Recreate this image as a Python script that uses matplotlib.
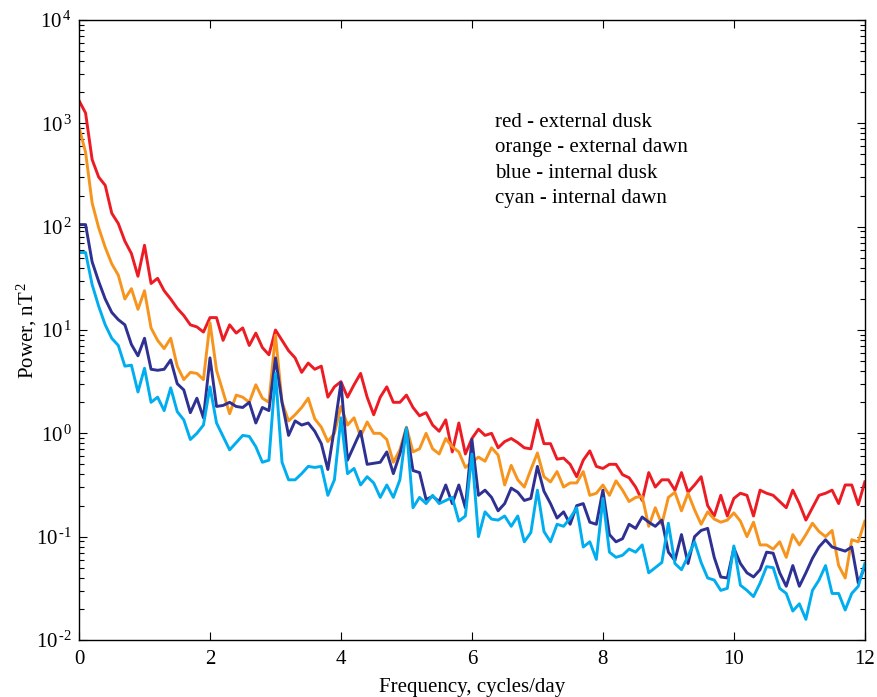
import matplotlib
matplotlib.use("Agg")
import matplotlib.pyplot as plt
import numpy as np
from matplotlib.ticker import LogLocator, NullFormatter

freq = [i / 10 for i in range(121)]

red_log = [
    3.22, 3.10, 2.65, 2.48, 2.40, 2.13, 2.03, 1.86, 1.74, 1.52,
    1.82, 1.45, 1.50, 1.38, 1.30, 1.21, 1.14, 1.05, 1.03, 0.98,
    1.12, 1.12, 0.90, 1.05, 0.97, 1.02, 0.85, 0.97, 0.83, 0.76,
    1.00, 0.90, 0.80, 0.73, 0.59, 0.68, 0.62, 0.65, 0.35, 0.45,
    0.50, 0.35, 0.47, 0.58, 0.35, 0.18, 0.35, 0.45, 0.30, 0.30,
    0.37, 0.25, 0.17, 0.20, 0.08, 0.02, 0.13, -0.18, 0.10, -0.20,
    -0.05, 0.04, -0.02, 0.00, -0.14, -0.08, -0.05, -0.09, -0.14, -0.15,
    0.13, -0.10, -0.10, -0.25, -0.24, -0.30, -0.42, -0.26, -0.17, -0.32,
    -0.34, -0.30, -0.30, -0.40, -0.43, -0.52, -0.65, -0.38, -0.52, -0.45,
    -0.45, -0.55, -0.38, -0.57, -0.50, -0.42, -0.70, -0.80, -0.60, -0.80,
    -0.63, -0.58, -0.60, -0.80, -0.55, -0.58, -0.60, -0.66, -0.72, -0.55,
    -0.68, -0.84, -0.72, -0.60, -0.58, -0.55, -0.68, -0.50, -0.50, -0.69,
    -0.47,
]

orange_log = [
    2.96, 2.72, 2.23, 1.99, 1.80, 1.64, 1.53, 1.30, 1.40, 1.20,
    1.38, 1.02, 0.90, 0.82, 0.92, 0.65, 0.52, 0.59, 0.58, 0.52,
    1.07, 0.61, 0.40, 0.19, 0.37, 0.35, 0.30, 0.47, 0.34, 0.30,
    0.95, 0.30, 0.12, 0.18, 0.25, 0.34, 0.14, 0.06, -0.08, 0.00,
    0.26, 0.08, 0.15, -0.03, 0.11, 0.00, 0.00, -0.06, -0.28, -0.16,
    0.06, -0.18, -0.15, 0.00, -0.15, -0.20, -0.05, -0.13, -0.18, -0.33,
    -0.28, -0.23, -0.27, -0.14, -0.21, -0.50, -0.31, -0.45, -0.52, -0.35,
    -0.19, -0.42, -0.47, -0.37, -0.52, -0.48, -0.48, -0.37, -0.60, -0.58,
    -0.50, -0.60, -0.46, -0.55, -0.66, -0.62, -0.61, -0.90, -0.72, -0.88,
    -0.62, -0.57, -0.75, -0.58, -0.74, -0.88, -0.76, -0.83, -0.86, -0.84,
    -0.77, -0.85, -1.00, -0.86, -1.08, -1.08, -1.12, -1.05, -1.20, -0.98,
    -1.08, -0.98, -0.87, -0.95, -1.00, -0.94, -1.28, -1.40, -1.03, -1.05,
    -0.85,
]

blue_log = [
    2.02, 2.02, 1.66, 1.47, 1.30, 1.17, 1.10, 1.05, 0.86, 0.75,
    0.92, 0.62, 0.61, 0.62, 0.71, 0.48, 0.42, 0.20, 0.34, 0.15,
    0.73, 0.26, 0.27, 0.30, 0.26, 0.25, 0.30, 0.10, 0.25, 0.22,
    0.73, 0.30, -0.02, 0.12, 0.08, 0.10, 0.02, -0.10, -0.35, 0.05,
    0.49, -0.26, -0.12, 0.02, -0.30, -0.29, -0.28, -0.18, -0.39, -0.20,
    0.05, -0.36, -0.38, -0.64, -0.61, -0.66, -0.50, -0.68, -0.50, -0.72,
    -0.06, -0.60, -0.55, -0.62, -0.75, -0.68, -0.53, -0.57, -0.65, -0.63,
    -0.32, -0.56, -0.68, -0.82, -0.76, -0.88, -0.70, -0.68, -0.86, -0.88,
    -0.55, -0.98, -1.05, -1.02, -0.88, -0.92, -0.81, -0.86, -0.90, -0.84,
    -1.15, -1.23, -0.98, -1.26, -1.00, -0.94, -0.92, -1.20, -1.39, -1.40,
    -1.11, -1.26, -1.35, -1.39, -1.32, -1.15, -1.16, -1.35, -1.48, -1.28,
    -1.48, -1.35, -1.21, -1.10, -1.03, -1.10, -1.12, -1.14, -1.10, -1.45,
    -1.29,
]

cyan_log = [
    1.75, 1.75, 1.44, 1.23, 1.05, 0.92, 0.85, 0.65, 0.66, 0.40,
    0.63, 0.30, 0.35, 0.22, 0.44, 0.21, 0.13, -0.06, 0.00, 0.08,
    0.45, 0.10, -0.03, -0.16, -0.09, -0.02, -0.03, -0.13, -0.28, -0.26,
    0.58, -0.28, -0.45, -0.45, -0.39, -0.32, -0.33, -0.32, -0.60, -0.45,
    0.15, -0.39, -0.34, -0.50, -0.42, -0.48, -0.62, -0.50, -0.62, -0.45,
    0.05, -0.72, -0.62, -0.68, -0.60, -0.68, -0.65, -0.62, -0.85, -0.80,
    -0.20, -1.00, -0.76, -0.83, -0.84, -0.80, -0.90, -0.80, -1.05, -0.96,
    -0.55, -0.95, -1.05, -0.88, -0.90, -0.82, -0.72, -1.10, -1.05, -1.22,
    -0.63, -1.15, -1.20, -1.18, -1.12, -1.15, -1.08, -1.35, -1.30, -1.25,
    -0.87, -1.26, -1.32, -1.19, -1.05, -1.25, -1.40, -1.42, -1.52, -1.50,
    -1.09, -1.47, -1.52, -1.58, -1.45, -1.29, -1.30, -1.50, -1.55, -1.72,
    -1.65, -1.80, -1.52, -1.42, -1.28, -1.55, -1.55, -1.71, -1.55, -1.48,
    -1.26,
]

legend_lines = ['red - external dusk', 'orange - external dawn',
                'blue - internal dusk', 'cyan - internal dawn']

plt.rcParams['font.family'] = ['Liberation Serif', 'DejaVu Serif']
plt.rcParams['mathtext.fontset'] = 'custom'
plt.rcParams['mathtext.rm'] = 'Liberation Serif'
plt.rcParams['mathtext.it'] = 'Liberation Serif:italic'

fig = plt.figure(figsize=(8.78, 6.97), dpi=100)
ax = fig.add_axes([0.090, 0.0818, 0.895, 0.8895])

series = [(red_log, '#ED1C24'), (orange_log, '#F7941D'),
          (blue_log, '#2E3192'), (cyan_log, '#00AEEF')]
for vals, col in series:
    ax.plot(freq, 10 ** np.array(vals), color=col, lw=2.1,
            solid_joinstyle='round')

ax.set_yscale('log')
ax.set_xlim(0, 12)
ax.set_ylim(1e-2, 1e4)
ax.set_xticks(range(0, 13, 2))
ax.yaxis.set_minor_locator(LogLocator(base=10, subs=np.arange(2, 10), numticks=100))
ax.yaxis.set_minor_formatter(NullFormatter())
ax.set_yticks([10.0 ** k for k in range(-2, 5)])
ax.set_yticklabels([r'$10^{\,%s}$' % str(k).replace('-', '\\text{-}') for k in range(-2, 5)])

ax.tick_params(which='both', direction='in', top=True, right=True,
               labelsize=15, width=0.8)
ax.tick_params(axis='x', pad=7)
ax.tick_params(axis='y', pad=5)
ax.tick_params(which='major', length=6)
ax.tick_params(which='minor', length=3.5)
for s in ax.spines.values():
    s.set_linewidth(1.0)

ax.set_xlabel('Frequency, cycles/day', fontsize=15, labelpad=7)
ax.set_ylabel(r'Power, nT$^{\,2}$', fontsize=15, labelpad=-2)

for i, t in enumerate(legend_lines):
    ax.text(0.529, 0.835 - i * 0.041, t, transform=ax.transAxes,
            fontsize=15, va='center', ha='left')

fig.savefig('out.png', dpi=100)
